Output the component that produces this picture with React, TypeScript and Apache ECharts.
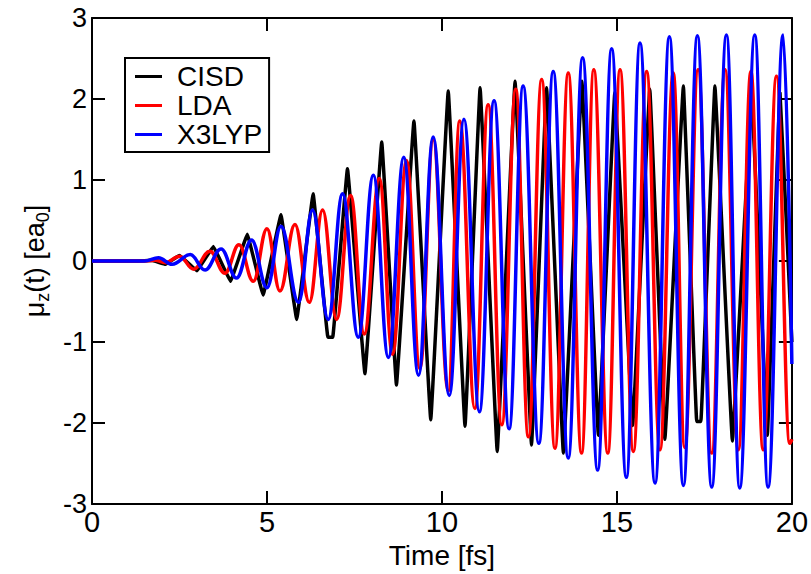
import React, { useEffect, useRef } from 'react';
import * as echarts from 'echarts';

const xTickValues = [0, 5, 10, 15, 20];
const yTickValues = [-3, -2, -1, 0, 1, 2, 3];
const seriesNames = ['CISD', 'LDA', 'X3LYP'];
const seriesColors = ['#000000', '#ff0000', '#0000ff'];

const cisdT = [0, 1.3, 1.7, 2.1, 2.5, 3.0, 3.47, 3.96, 4.44, 4.89, 5.4, 5.85, 6.32, 6.74, 6.88, 7.3, 7.8, 8.28, 8.7, 9.2, 9.68, 10.18, 10.66, 11.09, 11.58, 12.09, 12.56, 12.99, 13.47, 14.0, 14.47, 14.94, 15.45, 15.94, 16.37, 16.9, 17.28, 17.4, 17.8, 18.3, 18.85, 19.3, 19.66, 20];
const cisdV = [0, 0, 0.01, -0.04, 0.07, -0.12, 0.18, -0.25, 0.33, -0.42, 0.57, -0.72, 0.83, -0.94, -0.94, 1.14, -1.39, 1.47, -1.53, 1.73, -1.96, 2.1, -2.04, 2.14, -2.35, 2.22, -2.27, 2.14, -2.37, 2.22, -2.15, 2.08, -2.03, 2.12, -2.2, 2.16, -1.98, -1.98, 2.16, -2.22, 2.04, -2.15, 2.08, -1.0];

const ldaT = [0, 1.4, 1.8, 2.1, 2.5, 2.9, 3.37, 3.8, 4.2, 4.61, 5.0, 5.37, 5.8, 6.21, 6.59, 6.99, 7.39, 7.78, 8.21, 8.59, 8.99, 9.37, 9.75, 10.18, 10.51, 10.94, 11.32, 11.71, 12.11, 12.47, 12.85, 13.23, 13.61, 13.99, 14.34, 14.74, 15.09, 15.47, 15.85, 16.23, 16.61, 16.94, 17.32, 17.71, 18.09, 18.47, 18.83, 19.18, 19.56, 19.94, 20];
const ldaV = [0, 0, 0.01, -0.02, 0.06, -0.1, 0.12, -0.15, 0.2, -0.25, 0.4, -0.37, 0.45, -0.51, 0.63, -0.72, 0.81, -0.9, 1.02, -1.15, 1.24, -1.33, 1.5, -1.6, 1.73, -1.82, 1.93, -2.02, 2.12, -2.17, 2.24, -2.31, 2.32, -2.37, 2.36, -2.37, 2.36, -2.35, 2.34, -2.33, 2.32, -2.3, 2.36, -2.37, 2.36, -2.33, 2.34, -2.33, 2.28, -2.25, -2.2];

const x3lypT = [0, 1.5, 1.9, 2.29, 2.81, 3.23, 3.69, 4.13, 4.56, 5.0, 5.4, 5.9, 6.3, 6.75, 7.16, 7.61, 8.04, 8.47, 8.91, 9.33, 9.75, 10.21, 10.63, 11.07, 11.49, 11.92, 12.32, 12.77, 13.18, 13.61, 14.02, 14.45, 14.85, 15.27, 15.66, 16.09, 16.5, 16.9, 17.3, 17.71, 18.13, 18.51, 18.94, 19.32, 19.75, 20];
const x3lypV = [0, 0, 0.04, -0.04, 0.08, -0.11, 0.15, -0.21, 0.26, -0.33, 0.43, -0.51, 0.63, -0.72, 0.83, -0.94, 1.06, -1.19, 1.28, -1.41, 1.53, -1.66, 1.75, -1.86, 1.98, -2.07, 2.16, -2.25, 2.34, -2.43, 2.51, -2.58, 2.62, -2.67, 2.69, -2.74, 2.77, -2.77, 2.78, -2.79, 2.79, -2.8, 2.79, -2.79, 2.79, -1.27];

const FONT = '"Liberation Sans", Arial, Helvetica, sans-serif';

function pairs(t: number[], v: number[]) {
  return t.map((x, i) => [x, v[i]]);
}

export default function App() {
  const ref = useRef<HTMLDivElement>(null);
  useEffect(() => {
    const chart = echarts.init(ref.current!, null, { renderer: 'svg' });
    const axisLine = { show: true, onZero: false, lineStyle: { color: '#000', width: 2 } };
    const axisTick = { show: true, inside: true, length: 13, lineStyle: { color: '#000', width: 2 } };
    const xBase = {
      type: 'value', min: xTickValues[0], max: xTickValues[xTickValues.length - 1],
      interval: xTickValues[1] - xTickValues[0],
      axisLine, axisTick, splitLine: { show: false },
    };
    const yBase = {
      type: 'value', min: yTickValues[0], max: yTickValues[yTickValues.length - 1],
      interval: yTickValues[1] - yTickValues[0],
      axisLine, axisTick, splitLine: { show: false },
    };
    const smoothing = [0.05, 0.4, 0.4];
    const data = [pairs(cisdT, cisdV), pairs(ldaT, ldaV), pairs(x3lypT, x3lypV)];
    chart.setOption({
      animation: false,
      backgroundColor: '#fff',
      grid: { left: 92, top: 18, right: 19, bottom: 66 },
      legend: {
        left: 125, top: 58, orient: 'vertical', icon: 'rect',
        itemWidth: 27, itemHeight: 3, itemGap: 0,
        padding: [4, 7, 3, 10],
        borderColor: '#000', borderWidth: 2,
        textStyle: { fontSize: 28, fontFamily: FONT, color: '#000', lineHeight: 29, padding: [0, 0, 0, 10] },
        data: seriesNames,
      },
      xAxis: [
        {
          ...xBase, position: 'bottom',
          axisLabel: { color: '#000', fontSize: 29, fontFamily: FONT, margin: 3 },
          name: 'Time [fs]', nameLocation: 'middle', nameGap: 33,
          nameTextStyle: { color: '#000', fontSize: 28, fontFamily: FONT },
        },
        { ...xBase, position: 'top', axisLabel: { show: false } },
      ],
      yAxis: [
        {
          ...yBase, position: 'left',
          axisLabel: { color: '#000', fontSize: 27, fontFamily: FONT, margin: 5 },
          name: '{a|μ}{s|z}{a|(t) [ea}{s|0}{a|]}', nameLocation: 'middle', nameRotate: 90, nameGap: 35,
          nameTextStyle: {
            color: '#000', fontFamily: FONT,
            rich: {
              a: { fontSize: 27, fontFamily: FONT, color: '#000', lineHeight: 34 },
              s: { fontSize: 18, fontFamily: FONT, color: '#000', verticalAlign: 'bottom', lineHeight: 18 },
            },
          },
        },
        { ...yBase, position: 'right', axisLabel: { show: false } },
      ],
      series: seriesNames.map((name, i) => ({
        type: 'line', name, data: data[i], xAxisIndex: 0, yAxisIndex: 0,
        showSymbol: false, symbol: 'none', smooth: smoothing[i], smoothMonotone: 'x',
        lineStyle: { color: seriesColors[i], width: 3.5 }, itemStyle: { color: seriesColors[i] },
      })),
    });
    return () => chart.dispose();
  }, []);
  return <div ref={ref} style={{ position: 'absolute', left: 0, top: 0, width: 811, height: 574 }} />;
}
